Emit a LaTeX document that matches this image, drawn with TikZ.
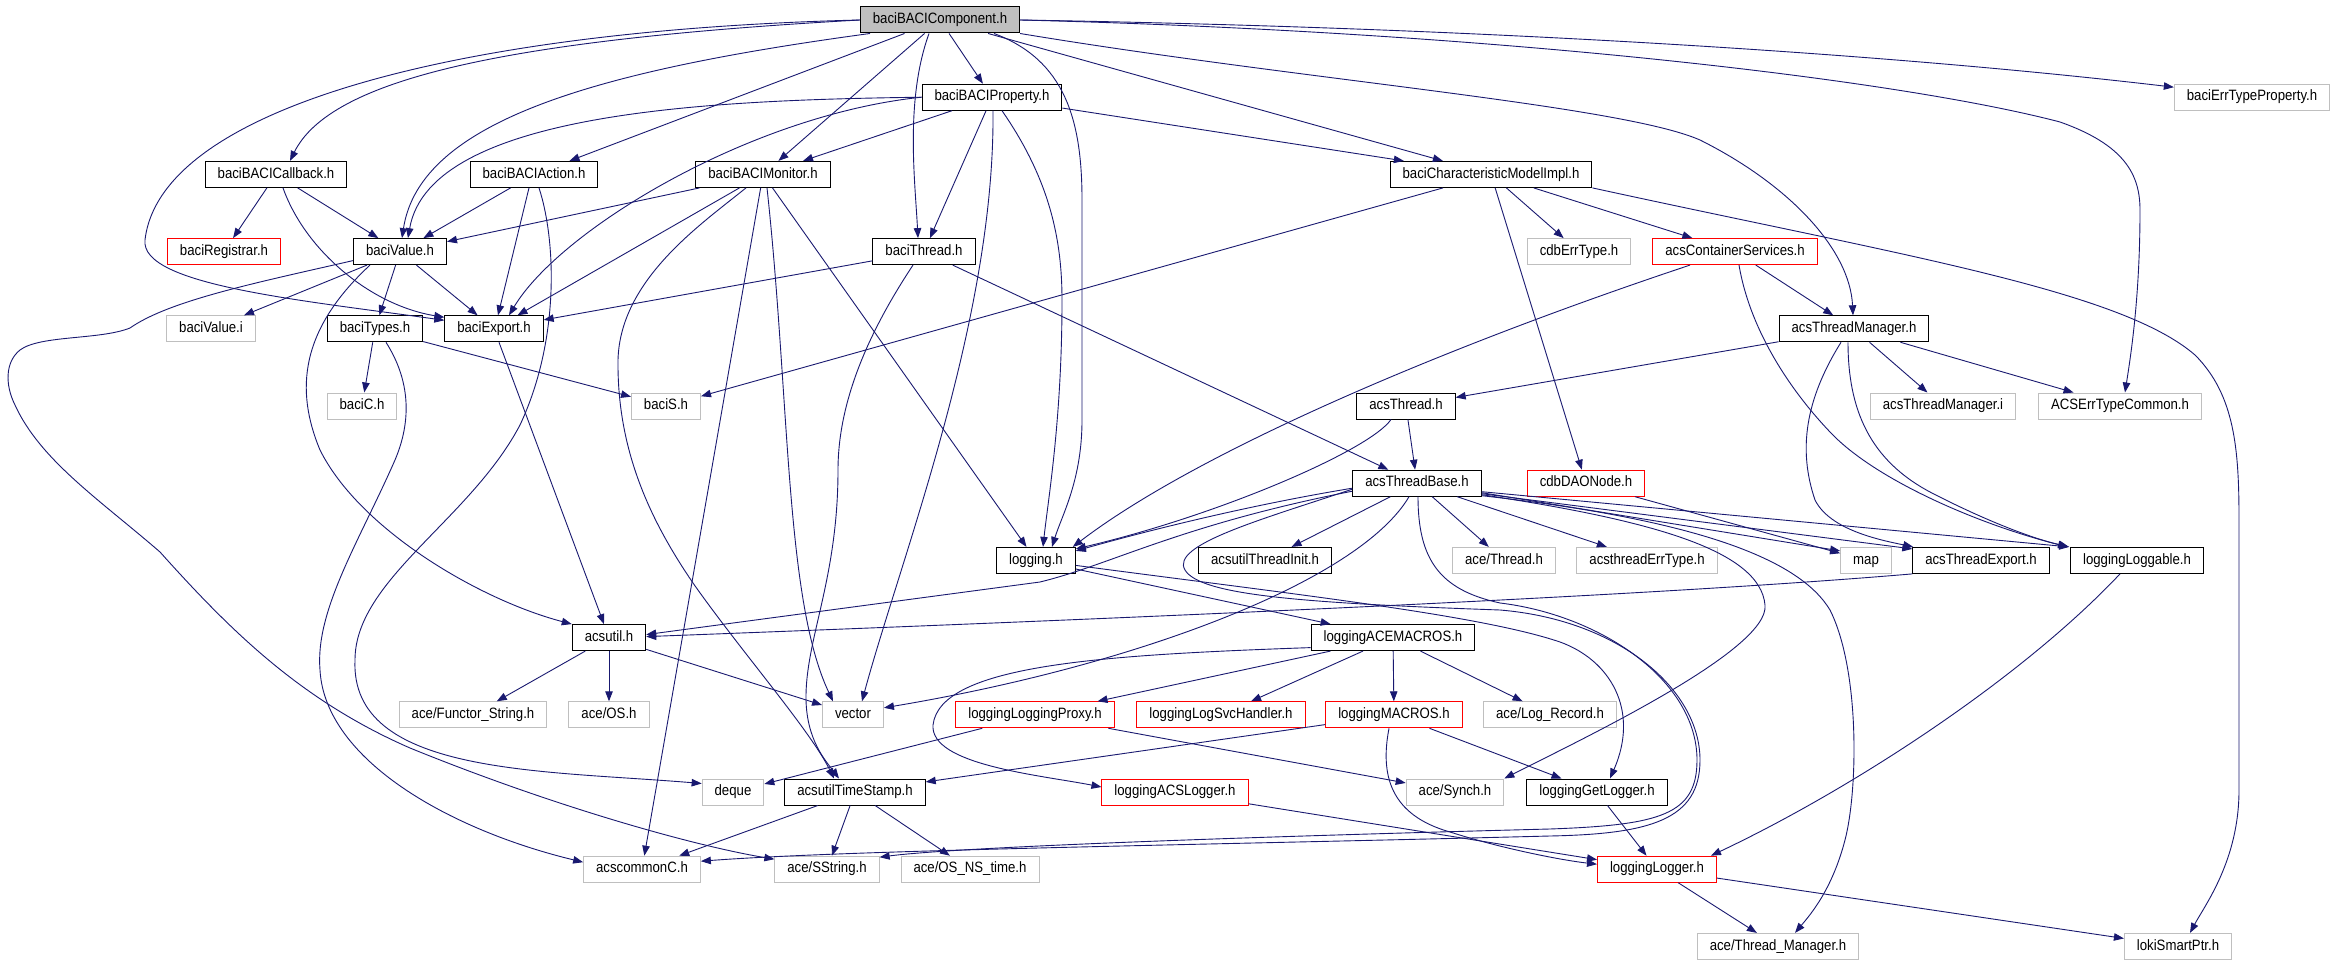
\documentclass[tikz,border=0pt]{standalone}
\usepackage{fontspec}
\newfontfamily\dfont[FakeStretch=0.88]{Liberation Sans}
\usetikzlibrary{arrows.meta}
\definecolor{edgec}{RGB}{25,25,112}
\definecolor{gborder}{RGB}{191,191,191}
\definecolor{rootfill}{RGB}{191,191,191}
\tikzset{
 nbase/.style={rectangle, inner xsep=12.5pt, inner ysep=0pt, minimum height=26pt,
   text height=11pt, text depth=3.5pt, font=\dfont\fontsize{15}{15}\selectfont, line width=1pt, text=black},
 nb/.style={nbase, draw=black},
 ng/.style={nbase, draw=gborder},
 nr/.style={nbase, draw=red},
 nroot/.style={nbase, draw=black, fill=rootfill},
 e/.style={draw=edgec, line width=0.9pt, -{Triangle[length=10pt,width=7.5pt]}},
}
\begin{document}
\begin{tikzpicture}[x=1pt,y=-1pt]
\useasboundingbox (0,0) rectangle (2335,968);
\fill[white] (0,0) rectangle (2335,968);
% nodes
\node[nroot] (comp) at (940,20) {baciBACIComponent.h};
\node[nb] (prop) at (992,97.2) {baciBACIProperty.h};
\node[ng] (errprop) at (2252,97.2) {baciErrTypeProperty.h};
\node[nb] (cb) at (276,174.4) {baciBACICallback.h};
\node[nb] (act) at (534,174.4) {baciBACIAction.h};
\node[nb] (mon) at (763,174.4) {baciBACIMonitor.h};
\node[nb] (cmi) at (1491,174.4) {baciCharacteristicModelImpl.h};
\node[nr] (reg) at (224,251.6) {baciRegistrar.h};
\node[nb] (val) at (400,251.6) {baciValue.h};
\node[nb] (bthr) at (924,251.6) {baciThread.h};
\node[ng] (cdberr) at (1579,251.6) {cdbErrType.h};
\node[nr] (acs) at (1735,251.6) {acsContainerServices.h};
\node[ng] (vali) at (211,328.8) {baciValue.i};
\node[nb] (types) at (375,328.8) {baciTypes.h};
\node[nb] (exp) at (494,328.8) {baciExport.h};
\node[nb] (tm) at (1854,328.8) {acsThreadManager.h};
\node[ng] (bc) at (362,406) {baciC.h};
\node[ng] (bs) at (666,406) {baciS.h};
\node[nb] (athr) at (1406,406) {acsThread.h};
\node[ng] (tmi) at (1943,406) {acsThreadManager.i};
\node[ng] (errc) at (2120,406) {ACSErrTypeCommon.h};
\node[nb] (tb) at (1417,483.2) {acsThreadBase.h};
\node[nr] (dao) at (1586,483.2) {cdbDAONode.h};
\node[nb] (log) at (1036,560.4) {logging.h};
\node[nb] (tinit) at (1265,560.4) {acsutilThreadInit.h};
\node[ng] (acethr) at (1504,560.4) {ace/Thread.h};
\node[ng] (terr) at (1647,560.4) {acsthreadErrType.h};
\node[ng] (map) at (1866,560.4) {map};
\node[nb] (texp) at (1981,560.4) {acsThreadExport.h};
\node[nb] (lgbl) at (2137,560.4) {loggingLoggable.h};
\node[nb] (util) at (609,637.6) {acsutil.h};
\node[nb] (acem) at (1393,637.6) {loggingACEMACROS.h};
\node[ng] (functor) at (473,714.8) {ace/Functor\_String.h};
\node[ng] (aceos) at (609,714.8) {ace/OS.h};
\node[ng] (vec) at (853,714.8) {vector};
\node[nr] (proxy) at (1035,714.8) {loggingLoggingProxy.h};
\node[nr] (svc) at (1221,714.8) {loggingLogSvcHandler.h};
\node[nr] (lmac) at (1394,714.8) {loggingMACROS.h};
\node[ng] (logrec) at (1550,714.8) {ace/Log\_Record.h};
\node[ng] (deque) at (733,792) {deque};
\node[nb] (ts) at (855,792) {acsutilTimeStamp.h};
\node[nr] (acsl) at (1175,792) {loggingACSLogger.h};
\node[ng] (synch) at (1455,792) {ace/Synch.h};
\node[nb] (getl) at (1597,792) {loggingGetLogger.h};
\node[ng] (ccc) at (642,869.2) {acscommonC.h};
\node[ng] (sstr) at (827,869.2) {ace/SString.h};
\node[ng] (nstime) at (970,869.2) {ace/OS\_NS\_time.h};
\node[nr] (lgr) at (1657,869.2) {loggingLogger.h};
\node[ng] (acetm) at (1778,946.4) {ace/Thread\_Manager.h};
\node[ng] (loki) at (2178,946.4) {lokiSmartPtr.h};
% component
\draw[e] (comp.west) .. controls (500,40) and (330,80) .. ([xshift=14pt]cb.north);
\draw[e] (comp.west) .. controls (450,30) and (160,110) .. (145,240) .. controls (140,285) and (300,300) .. ([yshift=-5pt]exp.north west);
\draw[e] ([xshift=-70pt]comp.south) .. controls (600,70) and (420,120) .. ([xshift=2pt]val.north);
\draw[e] (comp) -- (act);
\draw[e] (comp) -- (mon);
\draw[e] ([xshift=-11pt]comp.south) .. controls (905,100) and (915,180) .. ([xshift=-6pt]bthr.north);
\draw[e] (comp) -- (prop);
\draw[e] ([xshift=54pt]comp.south) .. controls (1065,60) and (1082,120) .. (1082,200) -- (1082,420) .. controls (1082,480) and (1062,515) .. ([xshift=16pt]log.north);
\draw[e] (comp) -- (cmi);
\draw[e] (comp.south east) .. controls (1300,80) and (1620,105) .. (1700,140) .. controls (1790,185) and (1850,250) .. ([xshift=-1pt]tm.north);
\draw[e] (comp.east) .. controls (1500,28) and (1900,55) .. ([yshift=10pt]errprop.west);
\draw[e] (comp.east) .. controls (1500,32) and (1900,80) .. (2060,122) .. controls (2125,145) and (2140,175) .. (2140,210) .. controls (2140,300) and (2130,360) .. ([xshift=5pt]errc.north);
% property
\draw[e] (prop.west) .. controls (720,100) and (430,110) .. ([xshift=8pt]val.north);
\draw[e] (prop.west) .. controls (750,115) and (560,230) .. ([xshift=15pt]exp.north);
\draw[e] (prop) -- (mon);
\draw[e] (prop) -- (bthr);
\draw[e] ([xshift=10pt]prop.south) .. controls (1050,180) and (1062,240) .. (1062,300) .. controls (1062,420) and (1048,500) .. ([xshift=7pt]log.north);
\draw[e] ([xshift=1pt]prop.south) .. controls (995,320) and (900,560) .. ([xshift=9pt]vec.north);
\draw[e] (prop) -- (cmi);
% callback
\draw[e] (cb) -- (reg);
\draw[e] (cb) -- (val);
\draw[e] ([xshift=7pt]cb.south) .. controls (305,250) and (370,305) .. ([yshift=-2pt]exp.north west);
% action
\draw[e] (act) -- (val);
\draw[e] ([xshift=-5pt]act.south) -- ([xshift=4pt]exp.north);
\draw[e] ([xshift=5pt]act.south) .. controls (556,240) and (560,340) .. (520,425) .. controls (470,520) and (355,580) .. (355,660) .. controls (350,775) and (540,770) .. ([yshift=-5pt]deque.north west);
% monitor
\draw[e] (mon) -- (val);
\draw[e] (mon) -- (exp);
\draw[e] (mon) -- (log);
\draw[e] ([xshift=4pt]mon.south) .. controls (790,400) and (785,600) .. ([xshift=-20pt]vec.north);
\draw[e] (mon) -- (ccc);
\draw[e] ([xshift=-17pt]mon.south) .. controls (700,225) and (620,280) .. (618,360) .. controls (617,450) and (650,520) .. (693,583) .. controls (740,650) and (810,730) .. ([xshift=-21pt]ts.north);
% characteristic model
\draw[e] (cmi) -- (bs);
\draw[e] (cmi) -- (cdberr);
\draw[e] (cmi) -- (acs);
\draw[e] (cmi) -- (dao);
\draw[e] (cmi.south east) .. controls (1900,255) and (2120,290) .. (2195,355) .. controls (2235,395) and (2239,450) .. (2239,520) -- (2239,790) .. controls (2239,860) and (2205,905) .. ([xshift=12pt]loki.north);
% baciValue
\draw[e] (val) -- (vali);
\draw[e] (val) -- (types);
\draw[e] (val) -- (exp);
\draw[e] ([xshift=-30pt]val.south) .. controls (300,330) and (295,390) .. (320,450) .. controls (360,530) and (480,600) .. (util.north west);
\draw[e] ([yshift=-9pt]val.west) .. controls (260,282) and (170,300) .. (130,328) .. controls (100,340) and (40,335) .. (20,350) .. controls (5,362) and (5,385) .. (15,405) .. controls (40,460) and (100,500) .. (160,552) .. controls (230,630) and (300,700) .. (410,748) .. controls (550,805) and (690,845) .. ([yshift=10pt]sstr.west);
% baciThread
\draw[e] (bthr) -- (exp);
\draw[e] ([xshift=-11pt]bthr.south) .. controls (870,330) and (838,400) .. (838,470) .. controls (838,580) and (805,640) .. (806,700) .. controls (807,740) and (825,760) .. ([xshift=-16pt]ts.north);
\draw[e] (bthr) -- (tb);
% container services
\draw[e] ([xshift=-45pt]acs.south) .. controls (1450,345) and (1200,450) .. ([xshift=-3pt]log.north east);
\draw[e] (acs) -- (tm);
\draw[e] ([xshift=4pt]acs.south) .. controls (1750,330) and (1790,390) .. (1830,432) .. controls (1875,480) and (1980,525) .. ([xshift=-2pt]lgbl.north west);
% baciTypes
\draw[e] (types) -- (bc);
\draw[e] (types) -- (bs);
\draw[e] ([xshift=11pt]types.south) .. controls (410,380) and (412,420) .. (395,460) .. controls (360,540) and (315,610) .. (320,670) .. controls (325,760) and (450,830) .. ([yshift=7pt]ccc.west);
% baciExport
\draw[e] (exp) -- (util);
% thread manager
\draw[e] (tm) -- (athr);
\draw[e] ([xshift=-13pt]tm.south) .. controls (1805,400) and (1798,450) .. (1815,500) .. controls (1830,530) and (1880,540) .. ([xshift=1pt]texp.north west);
\draw[e] ([xshift=-6pt]tm.south) .. controls (1848,410) and (1870,460) .. (1930,492) .. controls (1980,518) and (2030,538) .. ([xshift=-1pt]lgbl.north west);
\draw[e] (tm) -- (tmi);
\draw[e] (tm) -- (errc);
% acsThread
\draw[e] (athr) -- (tb);
\draw[e] ([xshift=-15pt]athr.south) .. controls (1370,450) and (1220,515) .. ([yshift=-2pt]log.north east);
% acsThreadBase
\draw[e] ([yshift=-5pt]tb.west) .. controls (1250,505) and (1150,530) .. ([yshift=-4pt]log.north east);
\draw[e] ([yshift=-8pt]tb.west) .. controls (1180,525) and (1110,565) .. (1040,582) -- ([yshift=3pt]util.east);
\draw[e] ([xshift=-8pt]tb.south) .. controls (1360,580) and (1140,665) .. ([yshift=7pt]vec.east);
\draw[e] (tb) -- (tinit);
\draw[e] (tb) -- (acethr);
\draw[e] (tb) -- (terr);
\draw[e] ([yshift=4pt]tb.south east) -- ([yshift=-4pt]map.north west);
\draw[e] ([yshift=3pt]tb.south east) -- ([yshift=-2pt]texp.north west);
\draw[e] ([yshift=5pt]tb.south east) -- ([xshift=-1pt]lgbl.north west);
\draw[e] ([yshift=2pt]tb.south east) .. controls (1650,520) and (1760,550) .. (1765,605) .. controls (1770,650) and (1580,740) .. (synch.north east);
\draw[e] ([yshift=1pt]tb.south east) .. controls (1700,520) and (1800,560) .. (1830,610) .. controls (1860,670) and (1858,790) .. (1845,840) .. controls (1832,890) and (1810,915) .. ([xshift=17pt]acetm.north);
\draw[e] ([xshift=1pt]tb.south) .. controls (1418,560) and (1440,590) .. (1500,603) .. controls (1600,615) and (1697,680) .. (1697,760) .. controls (1697,815) and (1660,825) .. (1550,829) .. controls (1200,838) and (950,848) .. ([yshift=12pt]sstr.east);
\draw[e] ([yshift=-6pt]tb.west) .. controls (1260,520) and (1170,545) .. (1185,570) .. controls (1200,595) and (1300,603) .. (1500,610) .. controls (1620,620) and (1700,690) .. (1700,760) .. controls (1700,820) and (1650,834) .. (1550,836) .. controls (1200,845) and (850,850) .. ([yshift=8pt]ccc.east);
% cdbDAONode
\draw[e] (dao) -- (map);
% logging
\draw[e] (log) -- (acem);
\draw[e] ([yshift=-5pt]log.east) .. controls (1300,595) and (1480,615) .. (1560,642) .. controls (1610,660) and (1640,710) .. ([xshift=13pt]getl.north);
% acsThreadExport
\draw[e] (texp.south west) .. controls (1700,592) and (1300,612) .. ([yshift=1pt]util.east);
% loggingLoggable
\draw[e] ([xshift=-17pt]lgbl.south) .. controls (2020,680) and (1850,790) .. ([xshift=-6pt]lgr.north east);
% acsutil
\draw[e] (util) -- (functor);
\draw[e] (util) -- (aceos);
\draw[e] (util) -- (vec);
% loggingACEMACROS
\draw[e] (acem) -- (proxy);
\draw[e] (acem) -- (svc);
\draw[e] (acem) -- (lmac);
\draw[e] (acem) -- (logrec);
\draw[e] ([yshift=-10pt]acem.west) .. controls (1100,655) and (940,665) .. (933,725) .. controls (930,765) and (1040,775) .. ([yshift=5pt]acsl.west);
% proxy
\draw[e] (proxy) -- (deque);
\draw[e] (proxy) -- (synch);
% loggingMACROS
\draw[e] (lmac) -- (ts);
\draw[e] (lmac) -- (getl);
\draw[e] ([xshift=-5pt]lmac.south) .. controls (1380,775) and (1390,815) .. (1450,832) .. controls (1500,848) and (1560,860) .. ([yshift=5pt]lgr.west);
% rest
\draw[e] (acsl) -- (lgr);
\draw[e] (getl) -- (lgr);
\draw[e] (lgr) -- (acetm);
\draw[e] (lgr) -- (loki);
\draw[e] (ts) -- (ccc);
\draw[e] (ts) -- (sstr);
\draw[e] (ts) -- (nstime);
\end{tikzpicture}
\end{document}
